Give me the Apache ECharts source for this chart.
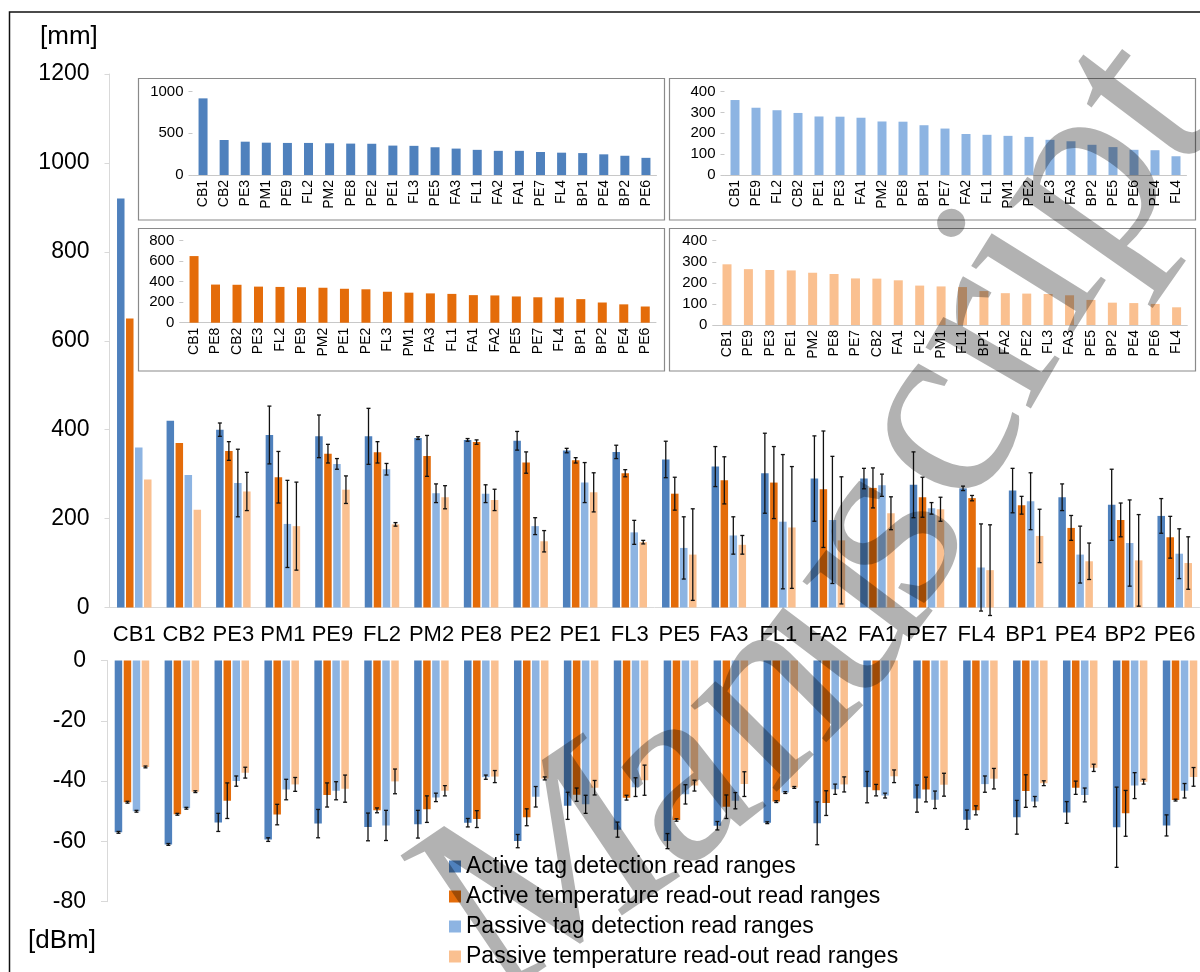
<!DOCTYPE html>
<html>
<head>
<meta charset="utf-8">
<script src="https://cdn.jsdelivr.net/npm/echarts@6/dist/echarts.min.js"></script>
<style>
  html, body { margin: 0; padding: 0; background: #fff; }
  #chart { width: 1200px; height: 972px; }
</style>
</head>
<body>
<div id="chart"></div>
<script>
// Tag types, in the order of the main chart
const categories = ['CB1','CB2','PE3','PM1','PE9','FL2','PM2','PE8','PE2','PE1','FL3','PE5','FA3','FL1','FA2','FA1','PE7','FL4','BP1','PE4','BP2','PE6'];

const seriesNames = [
  'Active tag detection read ranges',
  'Active temperature read-out read ranges',
  'Passive tag detection read ranges',
  'Passive temperature read-out read ranges'
];

// Read ranges [mm] and their spread
const activeTagRange      = [920,420,400,388,385,385,381,377,375,353,350,333,317,302,290,290,276,268,263,248,231,206];
const activeTagRangeErr   = [0,0,15,65,48,63,3,3,21,5,15,41,45,90,96,23,74,5,50,30,80,39];
const activeTempRange     = [650,370,352,293,346,349,341,372,326,331,302,256,286,281,266,269,248,246,230,179,197,158];
const activeTempRangeErr  = [0,0,21,58,21,24,46,5,24,6,8,37,53,81,131,45,45,6,20,28,38,47];
const passiveTagRange     = [360,298,280,188,323,311,257,256,183,281,169,134,162,193,197,275,223,90,239,119,145,121];
const passiveTagRangeErr  = [0,0,76,98,12,13,21,20,19,45,27,70,42,151,143,25,13,98,64,64,97,56];
const passiveTempRange    = [288,220,261,183,265,187,248,242,149,259,147,119,141,180,151,212,221,84,161,104,106,100];
const passiveTempRangeErr = [0,0,43,99,31,4,26,24,24,44,4,103,21,137,143,37,27,102,60,41,103,59];

// Minimum power levels [dBm] and their spread
const activeTagPower      = [-57,-61,-53.7,-59.4,-54.1,-55.2,-54.3,-53.8,-59.9,-48.2,-56.1,-59.9,-54.8,-53.8,-54,-42,-45.8,-52.8,-52,-50.4,-55.3,-54.7];
const activeTagPowerErr   = [0.3,0.3,3,0.6,4.7,4.6,4.6,1.4,2.2,4.5,2.5,2.5,1.4,0.3,7.1,5.2,4.5,3.2,5.6,3.6,13.3,3.5];
const activeTempPower     = [-47,-51,-46.5,-51.1,-44.6,-49.7,-49.3,-52.6,-52,-44.5,-45.5,-52.9,-48.5,-46.8,-47.3,-43,-42.8,-49.7,-43.3,-42.2,-50.7,-46.3];
const activeTempPowerErr  = [0.3,0.3,5.9,3.4,4,0.8,4.4,2.8,2.8,2.2,0.8,0.4,3.9,0.3,4.1,1.9,4.1,1.5,5.4,2.2,7.6,0.3];
const passiveTagPower     = [-50,-49,-40,-42.8,-43.2,-54.7,-45.4,-38.7,-45.2,-47.7,-42,-44.4,-46.5,-43.8,-42.7,-44.8,-46.2,-41,-46.8,-44.6,-41.5,-43.2];
const passiveTagPowerErr  = [0.3,0.3,1.7,3.4,3,5,1.4,0.7,3.4,3,3.1,3.2,2.7,0.3,1.7,0.8,2.9,2.7,1.7,2.3,4.3,2.4];
const passiveTempPower    = [-35.3,-43.5,-37.2,-41.1,-42.5,-40.1,-43.2,-38.5,-39.1,-42.2,-39.7,-41.5,-41,-42.1,-41.1,-38.4,-41.2,-39.2,-40.7,-35.6,-40.2,-38.6];
const passiveTempPowerErr = [0.3,0.3,1.8,2.3,4.5,4.1,1.7,2,0.5,2.4,5,1.8,4.1,0.3,2.5,2.1,3.8,3.4,0.8,1.2,0.8,3.1];

// Axis ticks
const rangeTicks = { min: 0, max: 1200, interval: 200 };
const powerTicks = { min: -80, max: 0, interval: 20 };

const colors = ['#4F81BD', '#E46C0A', '#8DB4E2', '#FAC090'];
const FONT = 'Liberation Sans, Arial, sans-serif';
const AXIS_GREY = '#d9d9d9';
const plain = v => String(v);

const rangeSets = [
  [activeTagRange, activeTagRangeErr],
  [activeTempRange, activeTempRangeErr],
  [passiveTagRange, passiveTagRangeErr],
  [passiveTempRange, passiveTempRangeErr]
];
const powerSets = [
  [activeTagPower, activeTagPowerErr],
  [activeTempPower, activeTempPowerErr],
  [passiveTagPower, passiveTagPowerErr],
  [passiveTempPower, passiveTempPowerErr]
];

// bar layout within a category: 4 bars, fixed width, 20% gap
const BAR_W = 7.5, BAR_GAP = 1.5;
const barOffset = i => (i - 1.5) * (BAR_W + BAR_GAP);

function errorBars(offset) {
  return function (params, api) {
    const idx = api.value(0), v = api.value(1), e = api.value(2);
    const hi = api.coord([idx, v + e]);
    const lo = api.coord([idx, v - e]);
    const x = hi[0] + offset;
    const cap = 2;
    const st = { stroke: '#111', lineWidth: 1.3 };
    return {
      type: 'group',
      children: [
        { type: 'line', shape: { x1: x, y1: hi[1], x2: x, y2: lo[1] }, style: st },
        { type: 'line', shape: { x1: x - cap, y1: hi[1], x2: x + cap, y2: hi[1] }, style: st },
        { type: 'line', shape: { x1: x - cap, y1: lo[1], x2: x + cap, y2: lo[1] }, style: st }
      ]
    };
  };
}

const grids = [
  { left: 109.5, top: 74, width: 1090, height: 533.5 },      // read ranges
  { left: 107, top: 660.5, width: 1098, height: 241.2 },     // power levels
  { left: 192.5, top: 91.7, width: 464, height: 83.3 },      // inset: active tag detection
  { left: 724.5, top: 91.7, width: 462, height: 83.3 },      // inset: passive tag detection
  { left: 183.3, top: 240.7, width: 472.7, height: 82 },     // inset: active temperature read-out
  { left: 716.3, top: 240.7, width: 471, height: 84.3 }      // inset: passive temperature read-out
].map(g => Object.assign({ containLabel: false, outerBoundsMode: 'none' }, g));

const xAxes = [
  {
    gridIndex: 0, type: 'category', data: categories,
    axisLine: { lineStyle: { color: AXIS_GREY, width: 1 } },
    axisTick: { length: 7, lineStyle: { color: AXIS_GREY } },
    axisLabel: { interval: 0, fontSize: 22, color: '#000', margin: 16, fontFamily: FONT }
  },
  { gridIndex: 1, type: 'category', data: categories, show: false }
];
const yAxes = [
  {
    gridIndex: 0, type: 'value', min: rangeTicks.min, max: rangeTicks.max, interval: rangeTicks.interval,
    axisLine: { show: true, lineStyle: { color: AXIS_GREY } },
    axisTick: { show: true, length: 5, lineStyle: { color: AXIS_GREY } },
    splitLine: { show: false },
    axisLabel: { fontSize: 23, color: '#000', margin: 20, fontFamily: FONT, formatter: plain }
  },
  {
    gridIndex: 1, type: 'value', min: powerTicks.min, max: powerTicks.max, interval: powerTicks.interval,
    axisLine: { show: true, lineStyle: { color: AXIS_GREY } },
    axisTick: { show: true, length: 6, lineStyle: { color: AXIS_GREY } },
    splitLine: { show: false },
    axisLabel: { fontSize: 23, color: '#000', margin: 21, fontFamily: FONT, formatter: plain }
  }
];

const series = [];
rangeSets.forEach(([vals], i) => {
  series.push({
    name: seriesNames[i], type: 'bar', xAxisIndex: 0, yAxisIndex: 0,
    barWidth: BAR_W, barGap: '20%', itemStyle: { color: colors[i] },
    data: vals, silent: true
  });
});
rangeSets.forEach(([vals, errs], i) => {
  series.push({
    type: 'custom', xAxisIndex: 0, yAxisIndex: 0, silent: true, z: 5,
    renderItem: errorBars(barOffset(i)),
    data: vals.map((v, k) => [k, v, errs[k]]).filter(d => d[2] > 0)
  });
});
powerSets.forEach(([vals], i) => {
  series.push({
    name: seriesNames[i], type: 'bar', xAxisIndex: 1, yAxisIndex: 1,
    barWidth: BAR_W, barGap: '20%', itemStyle: { color: colors[i] },
    data: vals, silent: true
  });
});
powerSets.forEach(([vals, errs], i) => {
  series.push({
    type: 'custom', xAxisIndex: 1, yAxisIndex: 1, silent: true, z: 5,
    renderItem: errorBars(barOffset(i)),
    data: vals.map((v, k) => [k, v, errs[k]]).filter(d => d[2] > 0)
  });
});

// Inset rankings: each read range sorted from longest to shortest
const insets = [
  { values: activeTagRange,   color: colors[0], max: 1000, interval: 500 },
  { values: passiveTagRange,  color: colors[2], max: 400,  interval: 100 },
  { values: activeTempRange,  color: colors[1], max: 800,  interval: 200 },
  { values: passiveTempRange, color: colors[3], max: 400,  interval: 100 }
];
insets.forEach((ins, k) => {
  const ranked = categories
    .map((c, i) => ({ c, v: ins.values[i] }))
    .sort((a, b) => b.v - a.v);
  const g = k + 2;
  xAxes.push({
    gridIndex: g, type: 'category', data: ranked.map(r => r.c),
    axisLine: { lineStyle: { color: '#c8c8c8' } },
    axisTick: { length: 5, lineStyle: { color: '#c8c8c8' } },
    axisLabel: { interval: 0, rotate: 90, fontSize: 14, color: '#000', margin: 5, fontFamily: FONT }
  });
  yAxes.push({
    gridIndex: g, type: 'value', min: 0, max: ins.max, interval: ins.interval,
    axisLine: { show: false },
    axisTick: { show: true, length: 4, lineStyle: { color: '#c8c8c8' } },
    splitLine: { show: false },
    axisLabel: { fontSize: 15, color: '#000', margin: 9, fontFamily: FONT, formatter: plain }
  });
  series.push({
    type: 'bar', xAxisIndex: g, yAxisIndex: g, barWidth: 9, silent: true,
    itemStyle: { color: ins.color },
    data: ranked.map(r => r.v)
  });
});

// Inset frames
const frames = [
  [138.5, 78.5, 526, 141.5],
  [669.5, 78.5, 526, 141.5],
  [138.5, 228.5, 526, 142.5],
  [669.5, 228.5, 526, 142.5]
].map(([x, y, w, h]) => ({
  type: 'rect', shape: { x, y, width: w, height: h },
  style: { fill: 'none', stroke: '#8a8a8a', lineWidth: 1.2 }, z: 1, silent: true
}));

// "Manuscript" stamp, one glyph at a time along a bent path: [glyph, x, y, angle in degrees]
const stampGlyphs = [
  ['M', 550, 880, 34], ['a', 680, 785, 38], ['n', 770, 700, 45], ['u', 840, 618, 53],
  ['s', 887, 535, 60], ['c', 940, 430, 61], ['r', 990, 340, 60], ['i', 1030, 270, 58],
  ['p', 1085, 185, 55], ['t', 1145, 105, 53]
];
const stamp = stampGlyphs.map(([ch, x, y, deg]) => ({
  type: 'text', x, y, rotation: deg * Math.PI / 180, z: 100, silent: true,
  style: { text: ch, font: '265px Liberation Serif, serif', fill: 'rgba(0,0,0,0.3)', align: 'center', verticalAlign: 'middle' }
}));

const option = {
  animation: false,
  backgroundColor: '#fff',
  textStyle: { fontFamily: FONT },
  grid: grids,
  xAxis: xAxes,
  yAxis: yAxes,
  legend: {
    data: seriesNames, orient: 'vertical', left: 449, top: 855,
    icon: 'rect', itemWidth: 12, itemHeight: 12, itemGap: 7, padding: 0,
    textStyle: { fontSize: 23, color: '#000', lineHeight: 23, fontFamily: FONT },
    selectedMode: false
  },
  series: series,
  graphic: [
    // outer frame
    { type: 'rect', shape: { x: 9.5, y: 12, width: 1200, height: 1000 },
      style: { fill: 'none', stroke: '#111', lineWidth: 1.5 }, silent: true },
    ...frames,
    // unit labels
    { type: 'text', x: 40, y: 37, style: { text: '[mm]', font: '26px ' + FONT, fill: '#000', verticalAlign: 'middle' }, silent: true },
    { type: 'text', x: 28, y: 941, style: { text: '[dBm]', font: '26px ' + FONT, fill: '#000', verticalAlign: 'middle' }, silent: true },
    ...stamp
  ]
};

const chart = echarts.init(document.getElementById('chart'), null, { renderer: 'canvas' });
chart.setOption(option);
</script>
</body>
</html>
